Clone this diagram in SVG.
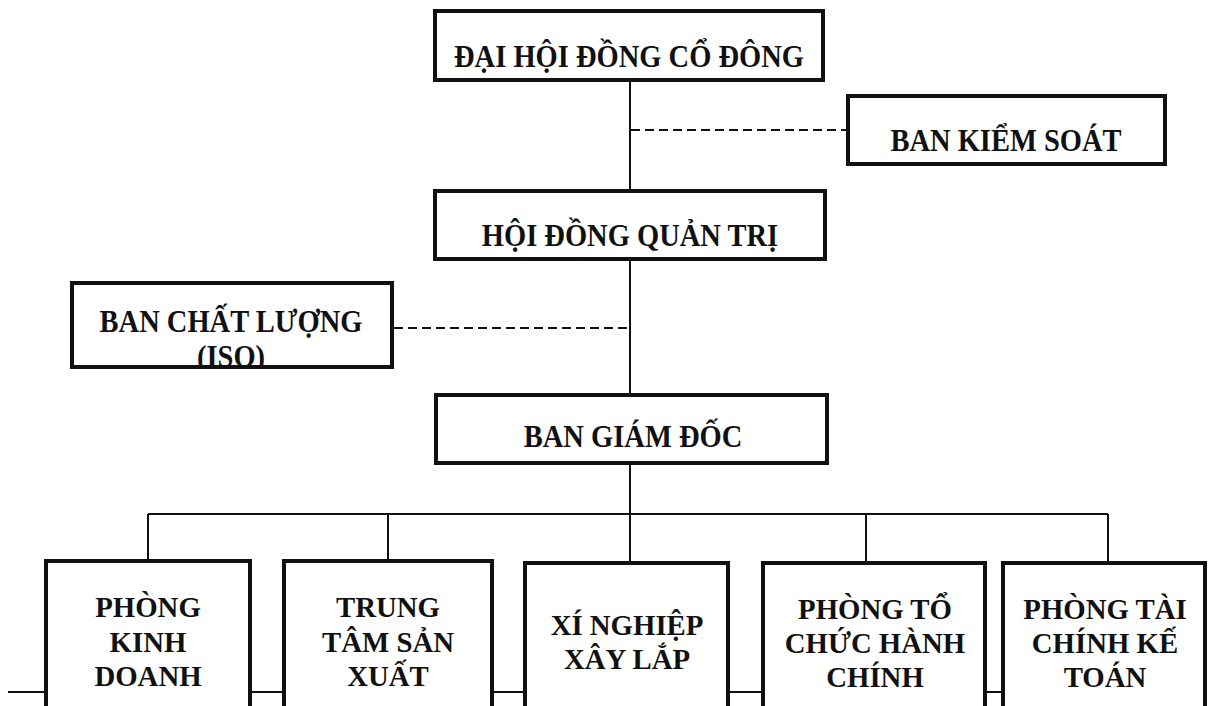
<svg xmlns="http://www.w3.org/2000/svg" width="1213" height="706" viewBox="0 0 1213 706">
<style>
.box{fill:#fff;stroke:#111;stroke-width:4}
.t{font-family:"Liberation Serif","Times New Roman",serif;font-weight:bold;font-size:31px;fill:#111;text-anchor:middle}
.tb{font-family:"Liberation Serif","Times New Roman",serif;font-weight:bold;font-size:30px;fill:#111;text-anchor:middle}
.ln{stroke:#111;stroke-width:2;fill:none}
.dash{stroke:#111;stroke-width:2;fill:none;stroke-dasharray:9 5}
</style>
<defs>
<clipPath id="clipISO"><rect x="-200" y="283" width="400" height="82"/></clipPath>
</defs>
<rect width="1213" height="706" fill="#fff"/>
<g id="connectors">
<line class="ln" x1="630" y1="80" x2="630" y2="190"/>
<line class="ln" x1="630" y1="260" x2="630" y2="395"/>
<line class="ln" x1="630" y1="463" x2="630" y2="563"/>
<line class="dash" x1="631" y1="130" x2="848" y2="130"/>
<line class="dash" x1="394" y1="328" x2="629" y2="328"/>
<line class="ln" x1="148" y1="514" x2="1108" y2="514"/>
<line class="ln" x1="148" y1="514" x2="148" y2="561"/>
<line class="ln" x1="388" y1="514" x2="388" y2="561"/>
<line class="ln" x1="866" y1="514" x2="866" y2="563"/>
<line class="ln" x1="1108" y1="514" x2="1108" y2="563"/>
<line class="ln" x1="8" y1="692" x2="46" y2="692"/>
<line class="ln" x1="250" y1="692" x2="284" y2="692"/>
<line class="ln" x1="492" y1="692" x2="525" y2="692"/>
<line class="ln" x1="728" y1="692" x2="763" y2="692"/>
<line class="ln" x1="985" y1="692" x2="1003" y2="692"/>
</g>
<g id="dai-hoi-dong-co-dong">
<rect class="box" x="435" y="11" width="388" height="69"/>
<text class="t" transform="translate(629 0) scale(0.92 1)" x="0" y="67">ĐẠI HỘI ĐỒNG CỔ ĐÔNG</text>
</g>
<g id="ban-kiem-soat">
<rect class="box" x="848" y="96" width="317" height="68"/>
<text class="t" transform="translate(1006 0) scale(0.92 1)" x="0" y="151">BAN KIỂM SOÁT</text>
</g>
<g id="hoi-dong-quan-tri">
<rect class="box" x="435" y="191" width="390" height="68"/>
<text class="t" transform="translate(630 0) scale(0.92 1)" x="0" y="246">HỘI ĐỒNG QUẢN TRỊ</text>
</g>
<g id="ban-chat-luong">
<rect class="box" x="72" y="283" width="320" height="84"/>
<text class="t" transform="translate(231 0) scale(0.92 1)" x="0" y="332">BAN CHẤT LƯỢNG</text>
<g transform="translate(231 0) scale(0.92 1)"><text class="t" x="0" y="367" clip-path="url(#clipISO)">(ISO)</text></g>
<rect x="72" y="283" width="320" height="84" fill="none" stroke="#111" stroke-width="4"/>
</g>
<g id="ban-giam-doc">
<rect class="box" x="436" y="395" width="391" height="68"/>
<text class="t" transform="translate(633 0) scale(0.92 1)" x="0" y="447">BAN GIÁM ĐỐC</text>
</g>
<g id="phong-kinh-doanh">
<rect class="box" x="46" y="561" width="204" height="170"/>
<g transform="translate(148 0) scale(0.96 1)">
<text class="tb" x="0" y="617">PHÒNG</text>
<text class="tb" x="0" y="652">KINH</text>
<text class="tb" x="0" y="686">DOANH</text>
</g>
</g>
<g id="trung-tam-san-xuat">
<rect class="box" x="284" y="561" width="208" height="170"/>
<g transform="translate(388 0) scale(0.96 1)">
<text class="tb" x="0" y="617">TRUNG</text>
<text class="tb" x="0" y="652">TÂM SẢN</text>
<text class="tb" x="0" y="686">XUẤT</text>
</g>
</g>
<g id="xi-nghiep-xay-lap">
<rect class="box" x="525" y="563" width="203" height="170"/>
<g transform="translate(627 0) scale(0.96 1)">
<text class="tb" x="0" y="635">XÍ NGHIỆP</text>
<text class="tb" x="0" y="669">XÂY LẮP</text>
</g>
</g>
<g id="phong-to-chuc-hanh-chinh">
<rect class="box" x="763" y="563" width="222" height="170"/>
<g transform="translate(875 0) scale(0.96 1)">
<text class="tb" x="0" y="619">PHÒNG TỔ</text>
<text class="tb" x="0" y="653">CHỨC HÀNH</text>
<text class="tb" x="0" y="687">CHÍNH</text>
</g>
</g>
<g id="phong-tai-chinh-ke-toan">
<rect class="box" x="1003" y="563" width="202" height="170"/>
<g transform="translate(1105 0) scale(0.96 1)">
<text class="tb" x="0" y="619">PHÒNG TÀI</text>
<text class="tb" x="0" y="653">CHÍNH KẾ</text>
<text class="tb" x="0" y="687">TOÁN</text>
</g>
</g>
</svg>
